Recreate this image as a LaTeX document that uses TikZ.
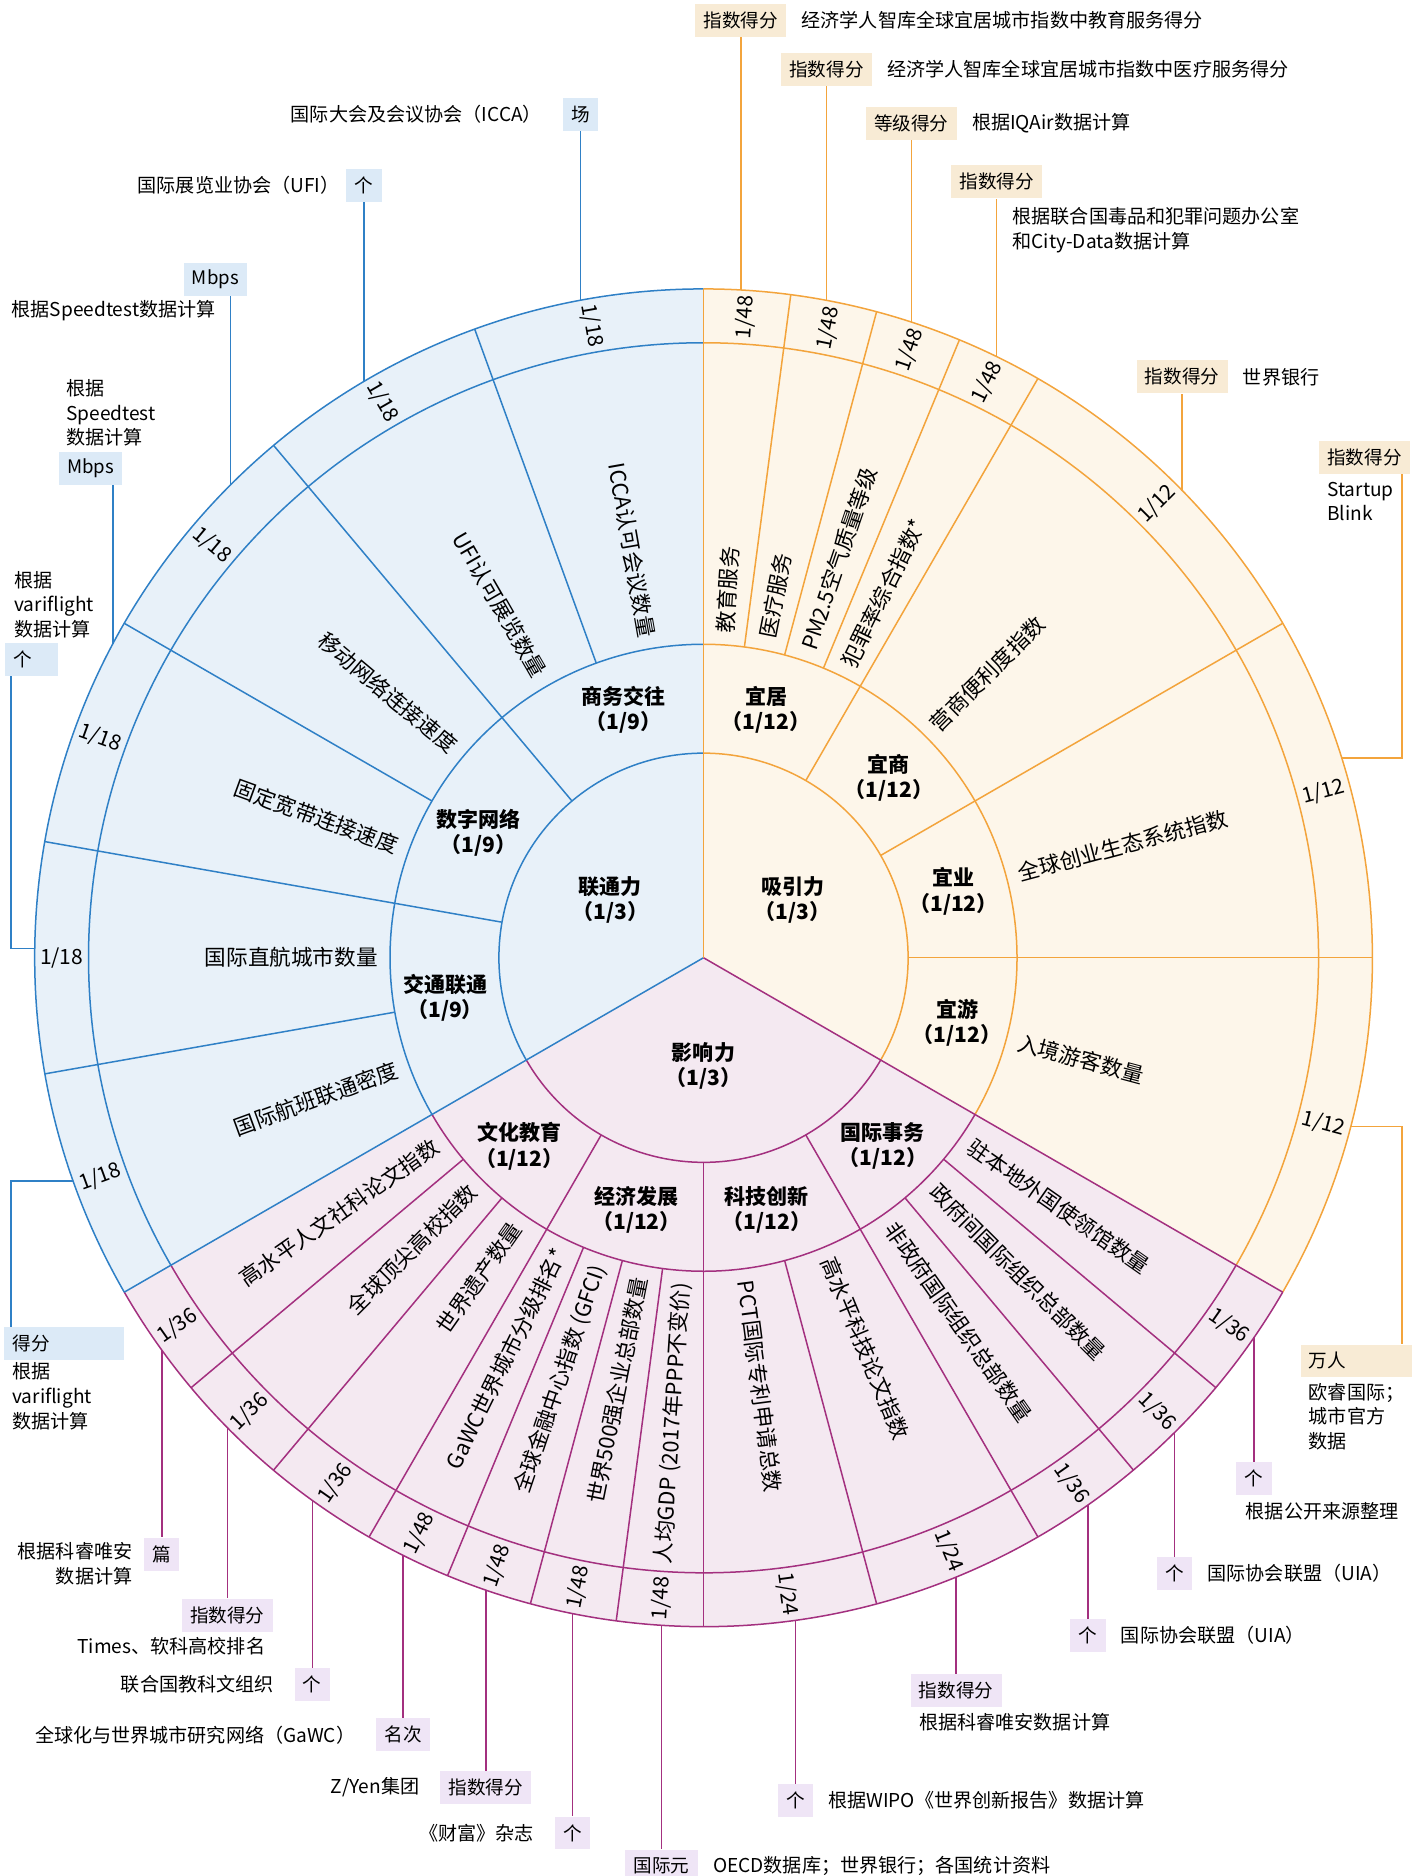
\documentclass[tikz,border=0pt]{standalone}
\usepackage{fontspec}
\setmainfont{Noto Sans CJK SC}
\usepackage{tikz}
\usetikzlibrary{positioning}
\definecolor{lianblue}{HTML}{2F80C6}
\definecolor{lianfill}{HTML}{E8F1F9}
\definecolor{liantag}{HTML}{DCEAF7}
\definecolor{xiorange}{HTML}{F3A43C}
\definecolor{xifill}{HTML}{FDF6EA}
\definecolor{xitag}{HTML}{F8EBD5}
\definecolor{yingpurple}{HTML}{A3307F}
\definecolor{yingfill}{HTML}{F4E9F1}
\definecolor{yingtag}{HTML}{EFE5F6}
\def\ringarc[#1](#2:#3:#4)% Syntax: [draw options] (initial angle:final angle:radius)
{ \draw[#1] (#2:#4) arc (#2:#3:#4); }
\def\spoke[#1](#2:#3:#4)% Syntax: [draw options] (angle:inner radius:outer radius)
{ \draw[#1] (#2:#3) -- (#2:#4); }

\begin{document}
\begin{tikzpicture}[x=0.59806pt,y=0.59806pt,
	segtext/.style={font=\fontsize{10.8}{13}\selectfont,inner sep=0pt},
	wtext/.style={font=\fontsize{10.5}{12}\selectfont,inner sep=0pt},
	dimtext/.style={font=\bfseries\fontsize{10.5}{12.6}\selectfont,align=center,inner sep=0pt},
	unitbox/.style={font=\fontsize{9.3}{12.3}\selectfont,minimum height=16.4pt,inner xsep=4.2pt,inner ysep=0pt},
	srctext/.style={font=\fontsize{9.55}{12.3}\selectfont,inner sep=0pt,align=left},
	bline/.style={draw=lianblue,line width=0.75pt},
	oline/.style={draw=xiorange,line width=0.75pt},
	pline/.style={draw=yingpurple,line width=0.75pt}]
	\useasboundingbox (-588,-767.5) rectangle (595,800.5);

	%sectors
	\fill[lianfill] (0,0) -- (90:559) arc (90:210:559) -- cycle;
	\fill[xifill] (0,0) -- (-30:559) arc (-30:90:559) -- cycle;
	\fill[yingfill] (0,0) -- (210:559) arc (210:330:559) -- cycle;

	%rings
	\ringarc[bline](90:210:171) \ringarc[bline](90:210:262)
	\ringarc[bline](90:210:514) \ringarc[bline](90:210:559)
	\ringarc[oline](-30:90:171) \ringarc[oline](-30:90:262)
	\ringarc[oline](-30:90:514) \ringarc[oline](-30:90:559)
	\ringarc[pline](210:330:171) \ringarc[pline](210:330:262)
	\ringarc[pline](210:330:514) \ringarc[pline](210:330:559)

	%spokes
	\spoke[bline](210:0:559)
	\spoke[bline](130:171:559) \spoke[bline](170:171:559)
	\spoke[bline](110:262:559) \spoke[bline](150:262:559) \spoke[bline](190:262:559)
	\spoke[pline](330:0:559)
	\spoke[pline](240:171:559) \spoke[pline](270:171:559) \spoke[pline](300:171:559)
	\spoke[pline](220:262:559) \spoke[pline](230:262:559)
	\spoke[pline](247.5:262:559) \spoke[pline](255:262:559) \spoke[pline](262.5:262:559)
	\spoke[pline](285:262:559) \spoke[pline](310:262:559) \spoke[pline](320:262:559)
	\spoke[oline](90:0:559)
	\spoke[oline](60:171:559) \spoke[oline](30:171:559) \spoke[oline](0:171:559)
	\spoke[oline](82.5:262:559) \spoke[oline](75:262:559) \spoke[oline](67.5:262:559)

	%dimensions
	\node[dimtext] (lian) at (-78,48) {联通力\\（1/3）};
	\node[dimtext] (xi) at (74.5,48) {吸引力\\（1/3）};
	\node[dimtext] (ying) at (0,-90.5) {影响力\\（1/3）};
	%
	\node[dimtext] (swjw) at (-67,207) {商务交往\\（1/9）};
	\node[dimtext] (szwl) at (-188,104.5) {数字网络\\（1/9）};
	\node[dimtext] (jtlt) at (-216,-33.5) {交通联通\\（1/9）};
	\node[dimtext] (yiju) at (52.3,207) {宜居\\（1/12）};
	\node[dimtext] (yishang) at (155,150.5) {宜商\\（1/12）};
	\node[dimtext] (yiye) at (209,55.5) {宜业\\（1/12）};
	\node[dimtext] (yiyou) at (212,-54.5) {宜游\\（1/12）};
	\node[dimtext] (whjy) at (-154,-157.5) {文化教育\\（1/12）};
	\node[dimtext] (jjfz) at (-56,-210.5) {经济发展\\（1/12）};
	\node[dimtext] (kjcx) at (53,-210.5) {科技创新\\（1/12）};
	\node[dimtext] (gjsw) at (150,-157.5) {国际事务\\（1/12）};

	%indicators
	\node[segtext,anchor=east,rotate=-80] (icca) at (100:272) {ICCA认可会议数量};
	\node[segtext,anchor=east,rotate=-60] (ufi) at (120:272) {UFI认可展览数量};
	\node[segtext,anchor=east,rotate=-40] (mobile) at (140:272) {移动网络连接速度};
	\node[segtext,anchor=east,rotate=-20] (broadband) at (160:272) {固定宽带连接速度};
	\node[segtext,anchor=east] (direct) at (180:272) {国际直航城市数量};
	\node[segtext,anchor=east,rotate=20] (flight) at (200:272) {国际航班联通密度};
	\node[segtext,anchor=west,rotate=86.25] (edu) at (86.25:272) {教育服务};
	\node[segtext,anchor=west,rotate=78.75] (med) at (78.75:272) {医疗服务};
	\node[segtext,anchor=west,rotate=71.25] (pm) at (71.25:272) {PM2.5空气质量等级};
	\node[segtext,anchor=west,rotate=63.75] (crime) at (63.75:272) {犯罪率综合指数*};
	\node[segtext,anchor=west,rotate=45] (biz) at (45:272) {营商便利度指数};
	\node[segtext,anchor=west,rotate=15] (startup) at (15:272) {全球创业生态系统指数};
	\node[segtext,anchor=west,rotate=-15] (tourist) at (-15:272) {入境游客数量};
	\node[segtext,anchor=east,rotate=35] (human) at (215:272) {高水平人文社科论文指数};
	\node[segtext,anchor=east,rotate=45] (univ) at (225:272) {全球顶尖高校指数};
	\node[segtext,anchor=east,rotate=55] (heritage) at (235:272) {世界遗产数量};
	\node[segtext,anchor=east,rotate=63.75] (gawc) at (243.75:272) {GaWC世界城市分级排名*};
	\node[segtext,anchor=east,rotate=71.25] (gfci) at (251.25:272) {全球金融中心指数 (GFCI)};
	\node[segtext,anchor=east,rotate=78.75] (fortune) at (258.75:272) {世界500强企业总部数量};
	\node[segtext,anchor=east,rotate=86.25] (gdp) at (266.25:272) {人均GDP (2017年PPP不变价)};
	\node[segtext,anchor=west,rotate=-82.5] (pct) at (277.5:272) {PCT国际专利申请总数};
	\node[segtext,anchor=west,rotate=-67.5] (paper) at (292.5:272) {高水平科技论文指数};
	\node[segtext,anchor=west,rotate=-55] (ngo) at (305:272) {非政府国际组织总部数量};
	\node[segtext,anchor=west,rotate=-45] (igo) at (315:272) {政府间国际组织总部数量};
	\node[segtext,anchor=west,rotate=-35] (embassy) at (325:272) {驻本地外国使领馆数量};

	%weights
	\node[wtext,rotate=-80] (wB1) at (100:536.5) {1/18};
	\node[wtext,rotate=-60] (wB2) at (120:536.5) {1/18};
	\node[wtext,rotate=-40] (wB3) at (140:536.5) {1/18};
	\node[wtext,rotate=-20] (wB4) at (160:536.5) {1/18};
	\node[wtext] (wB5) at (180:536.5) {1/18};
	\node[wtext,rotate=20] (wB6) at (200:536.5) {1/18};
	\node[wtext,rotate=86.25] (wO1) at (86.25:536.5) {1/48};
	\node[wtext,rotate=78.75] (wO2) at (78.75:536.5) {1/48};
	\node[wtext,rotate=71.25] (wO3) at (71.25:536.5) {1/48};
	\node[wtext,rotate=63.75] (wO4) at (63.75:536.5) {1/48};
	\node[wtext,rotate=45] (wO5) at (45:536.5) {1/12};
	\node[wtext,rotate=15] (wO6) at (15:536.5) {1/12};
	\node[wtext,rotate=-15] (wO7) at (-15:536.5) {1/12};
	\node[wtext,rotate=35] (wP1) at (215:536.5) {1/36};
	\node[wtext,rotate=45] (wP2) at (225:536.5) {1/36};
	\node[wtext,rotate=55] (wP3) at (235:536.5) {1/36};
	\node[wtext,rotate=63.75] (wP4) at (243.75:536.5) {1/48};
	\node[wtext,rotate=71.25] (wP5) at (251.25:536.5) {1/48};
	\node[wtext,rotate=78.75] (wP6) at (258.75:536.5) {1/48};
	\node[wtext,rotate=86.25] (wP7) at (266.25:536.5) {1/48};
	\node[wtext,rotate=-82.5] (wP8) at (277.5:536.5) {1/24};
	\node[wtext,rotate=-67.5] (wP9) at (292.5:536.5) {1/24};
	\node[wtext,rotate=-55] (wP10) at (305:536.5) {1/36};
	\node[wtext,rotate=-45] (wP11) at (315:536.5) {1/36};
	\node[wtext,rotate=-35] (wP12) at (325:536.5) {1/36};

	%callout feet on outer ring
	\coordinate (pO1) at (86.8:559);	\coordinate (pO2) at (79.4:559);
	\coordinate (pO3) at (71.9:559);	\coordinate (pO4) at (64.0:559);
	\coordinate (pO5) at (44.3:559);	\coordinate (pO6) at (17.4:559);
	\coordinate (pO7) at (-14.6:559);
	\coordinate (pB1) at (100.6:559);	\coordinate (pB2) at (120.5:559);
	\coordinate (pB3) at (135.0:559);	\coordinate (pB4) at (152.0:559);
	\coordinate (pB5) at (179.2:559);	\coordinate (pB6) at (199.5:559);
	\coordinate (pP1) at (215.9:559);	\coordinate (pP2) at (224.6:559);
	\coordinate (pP3) at (234.2:559);	\coordinate (pP4) at (243.3:559);
	\coordinate (pP5) at (251.0:559);	\coordinate (pP6) at (258.7:559);
	\coordinate (pP7) at (266.4:559);	\coordinate (pP8) at (277.9:559);
	\coordinate (pP9) at (292.2:559);	\coordinate (pP10) at (305.1:559);
	\coordinate (pP11) at (314.8:559);	\coordinate (pP12) at (325.4:559);
	\coordinate (kL) at (-579,0);		\coordinate (kR) at (584,0);

	%attraction callouts
	\node[unitbox,fill=xitag] (tO1) at (pO1 |- 0,783.5) {指数得分};
	\node[srctext,right=7.2pt of tO1] (sO1) {经济学人智库全球宜居城市指数中教育服务得分};
	\node[unitbox,fill=xitag] (tO2) at (pO2 |- 0,742.5) {指数得分};
	\node[srctext,right=7.2pt of tO2] (sO2) {经济学人智库全球宜居城市指数中医疗服务得分};
	\node[unitbox,fill=xitag] (tO3) at (pO3 |- 0,697.5) {等级得分};
	\node[srctext,right=7.2pt of tO3] (sO3) {根据IQAir数据计算};
	\node[unitbox,fill=xitag] (tO4) at (pO4 |- 0,648.5) {指数得分};
	\node[srctext,anchor=north west] (sO4) at (258,627.5) {根据联合国毒品和犯罪问题办公室\\和City-Data数据计算};
	\node[unitbox,fill=xitag] (tO5) at (pO5 |- 0,485.5) {指数得分};
	\node[srctext,right=7.2pt of tO5] (sO5) {世界银行};
	\node[unitbox,fill=xitag] (tO6) at (552.5,418.2) {指数得分};
	\node[srctext,anchor=north west] (sO6) at (521,398) {Startup\\Blink};
	\node[unitbox,fill=xitag,text width=47.2pt,align=left] (tO7) at (545.5,-337) {万人};
	\node[srctext,anchor=north west] (sO7) at (505.6,-355.3) {欧睿国际；\\城市官方\\数据};
	\draw[oline] (pO1) -- (tO1.south);
	\draw[oline] (pO2) -- (tO2.south);
	\draw[oline] (pO3) -- (tO3.south);
	\draw[oline] (pO4) -- (tO4.south);
	\draw[oline] (pO5) -- (tO5.south);
	\draw[oline] (pO6) -| (kR |- tO6.south);
	\draw[oline] (pO7) -| (kR |- tO7.north);

	%connectivity callouts
	\node[unitbox,fill=liantag] (tB1) at (pB1 |- 0,705) {场};
	\node[srctext,left=10pt of tB1] (sB1) {国际大会及会议协会（ICCA）};
	\node[unitbox,fill=liantag] (tB2) at (pB2 |- 0,645.5) {个};
	\node[srctext,left=3pt of tB2] (sB2) {国际展览业协会（UFI）};
	\node[unitbox,fill=liantag] (tB3) at (-408,567) {Mbps};
	\node[srctext,anchor=east] (sB3) at (-407.4,540.5) {根据Speedtest数据计算};
	\node[unitbox,fill=liantag] (tB4) at (-512.3,409) {Mbps};
	\node[srctext,anchor=north west] (sB4) at (-533,483.5) {根据\\Speedtest\\数据计算};
	\node[unitbox,fill=liantag,text width=17.9pt,align=left] (tB5) at (-561.8,249.5) {个};
	\node[srctext,anchor=north west] (sB5) at (-576.3,323.5) {根据\\variflight\\数据计算};
	\node[unitbox,fill=liantag,text width=51.4pt,align=left] (tB6) at (-534.6,-322.4) {得分};
	\node[srctext,anchor=north west] (sB6) at (-578,-338.3) {根据\\variflight\\数据计算};
	\draw[bline] (pB1) -- (tB1.south);
	\draw[bline] (pB2) -- (tB2.south);
	\draw[bline] (pB3) -- (pB3 |- tB3.south);
	\draw[bline] (pB4) -- (pB4 |- tB4.south);
	\draw[bline] (pB5) -| (kL |- tB5.south);
	\draw[bline] (pB6) -| (kL |- tB6.north);

	%influence callouts
	\node[unitbox,fill=yingtag] (tP1) at (pP1 |- 0,-498.5) {篇};
	\node[srctext,align=right,anchor=north east] (sP1) at (-477,-488.5) {根据科睿唯安\\数据计算};
	\node[unitbox,fill=yingtag] (tP2) at (pP2 |- 0,-549.5) {指数得分};
	\node[srctext,anchor=east] (sP2) at (-366,-575.3) {Times、软科高校排名};
	\node[unitbox,fill=yingtag] (tP3) at (pP3 |- 0,-607.5) {个};
	\node[srctext,left=10pt of tP3] (sP3) {联合国教科文组织};
	\node[unitbox,fill=yingtag] (tP4) at (pP4 |- 0,-649.5) {名次};
	\node[srctext,left=10pt of tP4] (sP4) {全球化与世界城市研究网络（GaWC）};
	\node[unitbox,fill=yingtag] (tP5) at (pP5 |- 0,-693.5) {指数得分};
	\node[srctext,left=10pt of tP5] (sP5) {Z/Yen集团};
	\node[unitbox,fill=yingtag] (tP6) at (pP6 |- 0,-731.5) {个};
	\node[srctext,left=10pt of tP6] (sP6) {《财富》杂志};
	\node[unitbox,fill=yingtag] (tP7) at (pP7 |- 0,-759.3) {国际元};
	\node[srctext,right=7.2pt of tP7] (sP7) {OECD数据库；世界银行；各国统计资料};
	\node[unitbox,fill=yingtag] (tP8) at (pP8 |- 0,-704.5) {个};
	\node[srctext,right=7.2pt of tP8] (sP8) {根据WIPO《世界创新报告》数据计算};
	\node[unitbox,fill=yingtag] (tP9) at (pP9 |- 0,-612.5) {指数得分};
	\node[srctext,anchor=west] (sP9) at (180,-638.9) {根据科睿唯安数据计算};
	\node[unitbox,fill=yingtag] (tP10) at (pP10 |- 0,-566.5) {个};
	\node[srctext,right=7.2pt of tP10] (sP10) {国际协会联盟（UIA）};
	\node[unitbox,fill=yingtag] (tP11) at (pP11 |- 0,-514.5) {个};
	\node[srctext,right=7.2pt of tP11] (sP11) {国际协会联盟（UIA）};
	\node[unitbox,fill=yingtag] (tP12) at (pP12 |- 0,-435.5) {个};
	\node[srctext,anchor=west] (sP12) at (453,-462.9) {根据公开来源整理};
	\draw[pline] (pP1) -- (tP1.north);
	\draw[pline] (pP2) -- (tP2.north);
	\draw[pline] (pP3) -- (tP3.north);
	\draw[pline] (pP4) -- (tP4.north);
	\draw[pline] (pP5) -- (tP5.north);
	\draw[pline] (pP6) -- (tP6.north);
	\draw[pline] (pP7) -- (tP7.north);
	\draw[pline] (pP8) -- (tP8.north);
	\draw[pline] (pP9) -- (tP9.north);
	\draw[pline] (pP10) -- (tP10.north);
	\draw[pline] (pP11) -- (tP11.north);
	\draw[pline] (pP12) -- (tP12.north);
\end{tikzpicture}
\end{document}
